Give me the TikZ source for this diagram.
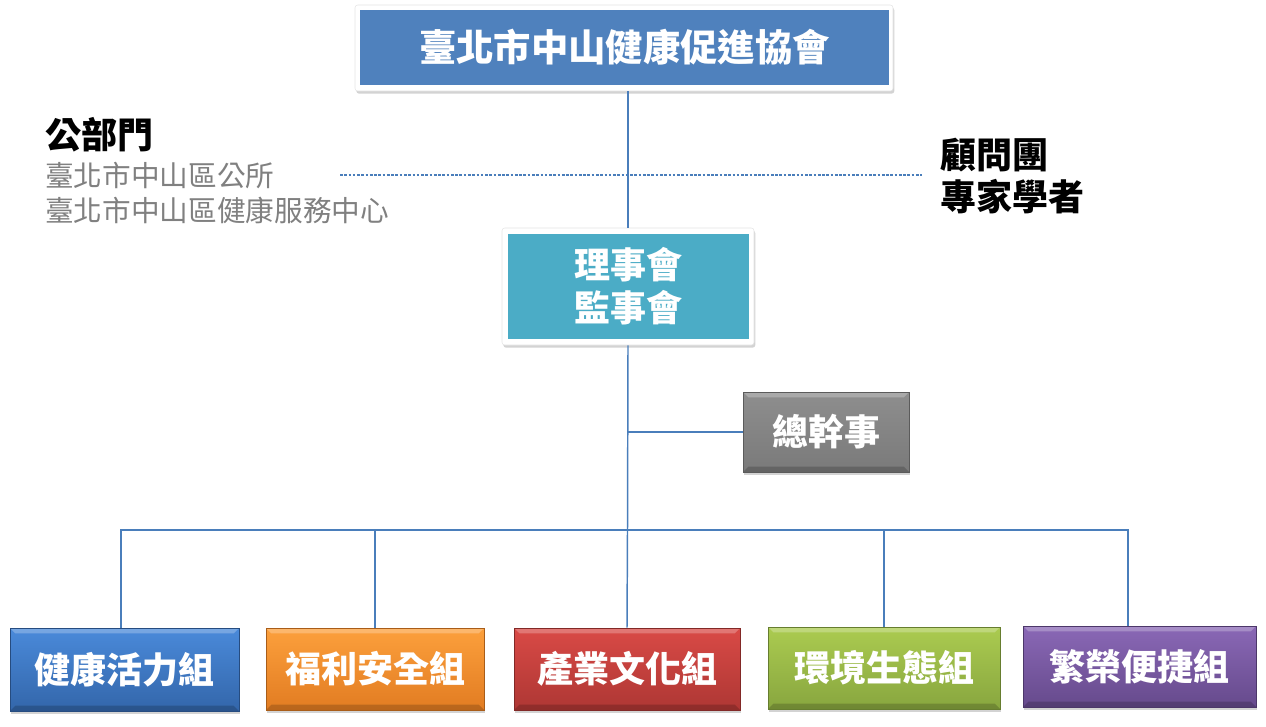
\documentclass[tikz,border=0pt]{standalone}
\usepackage{fontspec}
\setmainfont{Noto Sans CJK TC}
\usetikzlibrary{shadows, positioning}

\definecolor{assoc}{HTML}{4F81BD}
\definecolor{board}{HTML}{4BACC6}
\definecolor{linec}{HTML}{4A7EBB}
\definecolor{grayT}{HTML}{8E8E8E}
\definecolor{grayB}{HTML}{7A7A7A}
\definecolor{blueT}{HTML}{4A8ADA}
\definecolor{blueB}{HTML}{3366AA}
\definecolor{oranT}{HTML}{FCA03C}
\definecolor{oranB}{HTML}{E27C22}
\definecolor{redT}{HTML}{D94A46}
\definecolor{redB}{HTML}{AE3734}
\definecolor{grnT}{HTML}{ABCB50}
\definecolor{grnB}{HTML}{88A63F}
\definecolor{purT}{HTML}{8A68B6}
\definecolor{purB}{HTML}{664A8C}

\begin{document}
\begin{tikzpicture}[x=0.75pt,y=-0.75pt]
\tikzset{boxsize/.style 2 args={minimum width=#1*0.75pt, minimum height=#2*0.75pt, inner sep=0pt},
  framebox/.style={fill=white, draw=black!10, rounded corners=2pt,
    drop shadow={shadow xshift=1pt, shadow yshift=-2pt, opacity=0.35}},
  plain/.style={fill=#1, text=white, font=\bfseries\fontsize{28}{32}\selectfont, align=center},
  grp/.style 2 args={top color=#1, bottom color=#2, draw=#2!75!black, line width=0.6pt,
    text=white, font=\bfseries\fontsize{27}{32}\selectfont,
    drop shadow={shadow xshift=1pt, shadow yshift=-2.5pt, opacity=0.35},
    path picture={
      \fill[white,opacity=0.25] (path picture bounding box.north west) -- (path picture bounding box.north east)
        -- ([xshift=-4pt,yshift=-4pt]path picture bounding box.north east) -- ([xshift=4pt,yshift=-4pt]path picture bounding box.north west) -- cycle;
      \fill[black,opacity=0.18] (path picture bounding box.south west) -- (path picture bounding box.south east)
        -- ([xshift=-4pt,yshift=4pt]path picture bounding box.south east) -- ([xshift=4pt,yshift=4pt]path picture bounding box.south west) -- cycle;}},
  link/.style={draw=linec, line width=1.1pt},
  note/.style={anchor=west, inner sep=0pt, font=\fontsize{#1}{#1}\selectfont},
  head/.style={anchor=west, inner sep=0pt, font=\bfseries\fontsize{27}{27}\selectfont}}
\useasboundingbox (0,0) rectangle (1266,727);

% frames
\node[framebox, boxsize={538}{86}] (topf) at (624,48) {};
\node[framebox, boxsize={252}{117}] (midf) at (628,286.5) {};

% boxes
\node[plain=assoc, boxsize={529}{75}] (top) at (624.5,47.5) {臺北市中山健康促進協會};
\node[plain=board, boxsize={241}{105}, font=\bfseries\fontsize{27}{32}\selectfont] (mid) at (628.5,286.5) {理事會\\監事會};
\node[grp={grayT}{grayB}, boxsize={166}{80}] (gm) at (826,432) {總幹事};

\node[grp={blueT}{blueB}, boxsize={229}{83}] (g1) at (124.5,669.5) {健康活力組};
\node[grp={oranT}{oranB}, boxsize={218}{82}] (g2) at (375,669) {福利安全組};
\node[grp={redT}{redB}, boxsize={226}{82}] (g3) at (627,669) {產業文化組};
\node[grp={grnT}{grnB}, boxsize={232}{82}] (g4) at (884,668) {環境生態組};
\node[grp={purT}{purB}, boxsize={233}{81}] (g5) at (1139.5,666.5) {繁榮便捷組};

% side texts
\node[head] (pub) at (45,135) {公部門};
\node[note=21.5, text=black!50] (pub1) at (45,176) {臺北市中山區公所};
\node[note=21.5, text=black!50] (pub2) at (45,210) {臺北市中山區健康服務中心};
\node[head] (adv) at (940,155) {顧問團};
\node[head] (adv1) at (940,197) {專家學者};

% coordinates
\coordinate (dl) at (340,175);
\coordinate (dr) at (922,175);
\coordinate (j) at (627.5,432);
\coordinate (bus) at (627.5,530);
\coordinate (busL) at (121,530);
\coordinate (busR) at (1128,530);

%edges
\draw[draw=linec, line width=0.8pt, dash pattern=on 2pt off 1.2pt] (dl) -- (dr);
\draw[link] (midf.north |- topf.south) -- (midf.north);
\draw[link] (midf.south) -- (bus);
\draw[link] (j) -- (gm.west);
\draw[link] (g1.north -| busL) -- (busL) -- (busR) -- (g5.north -| busR);
\draw[link] (g2.north) -- (g2.north |- bus);
\draw[link] (g3.north) -- (bus);
\draw[link] (g4.north) -- (g4.north |- bus);
\end{tikzpicture}
\end{document}
